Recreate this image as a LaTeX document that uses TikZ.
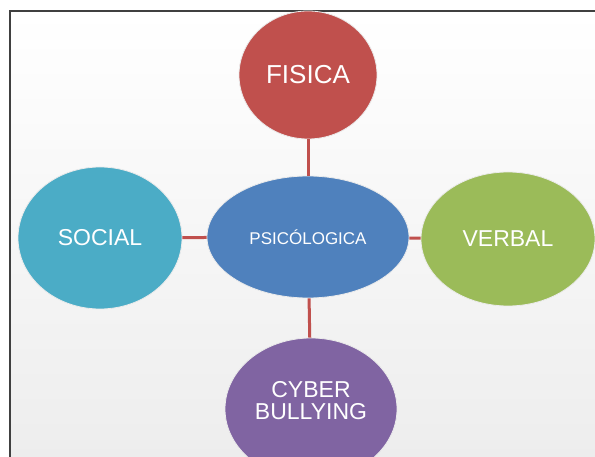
\documentclass[tikz,border=0pt]{standalone}
\usepackage{fontspec}
\setmainfont{Liberation Sans}
\usetikzlibrary{shapes.geometric}

\definecolor{fisicared}{HTML}{C0504D}
\definecolor{psicoblue}{HTML}{4F81BD}
\definecolor{socialcyan}{HTML}{4BACC6}
\definecolor{verbalgreen}{HTML}{9BBB59}
\definecolor{cyberpurple}{HTML}{8064A2}
\definecolor{framegray}{HTML}{404040}

\begin{document}
\begin{tikzpicture}
        [x=1pt,y=-1pt,%%%%%%%%%%%%%%%%%%%%%%%%%%%%%%
        blob/.style={ellipse,draw=white!92!black,line width=0.8pt,text=white,
                     inner sep=0pt,align=center,font=\fontsize{23}{25}\selectfont},
        link/.style={draw=fisicared,line width=3pt},
        ]%%%%%%%%%%%%%%%%%%%%%%%%%%%%%%

        \path[use as bounding box,clip] (0,0) rectangle (595,457);

        % background and frame
        \shade[top color=white,bottom color=black!7] (10,11) rectangle (595,457);
        \draw[framegray,line width=2pt] (10,457) -- (10,11) -- (595,11);

        % centre and satellites
        \node[blob,fill=psicoblue,minimum width=202pt,minimum height=122pt,
              font=\fontsize{17}{19}\selectfont] (psico) at (308,237) {PSICÓLOGICA};
        \node[blob,fill=fisicared,minimum width=138pt,minimum height=128pt,
              font=\fontsize{26}{28}\selectfont] (fisica) at (308,75) {FISICA};
        \node[blob,fill=socialcyan,minimum width=164pt,minimum height=142pt] (social) at (100,238) {SOCIAL};
        \node[blob,fill=verbalgreen,minimum width=174pt,minimum height=134pt] (verbal) at (508,239) {VERBAL};
        \node[blob,fill=cyberpurple,minimum width=172pt,minimum height=142pt] (cyber) at (311,409) {};
        \node[blob,draw=none] (cybertext) at (311,401) {CYBER\\[-3pt]BULLYING};

        \foreach \n in {fisica,social,verbal,cyber}
          \draw[link] (psico) -- (\n);

      \end{tikzpicture}
\end{document}
